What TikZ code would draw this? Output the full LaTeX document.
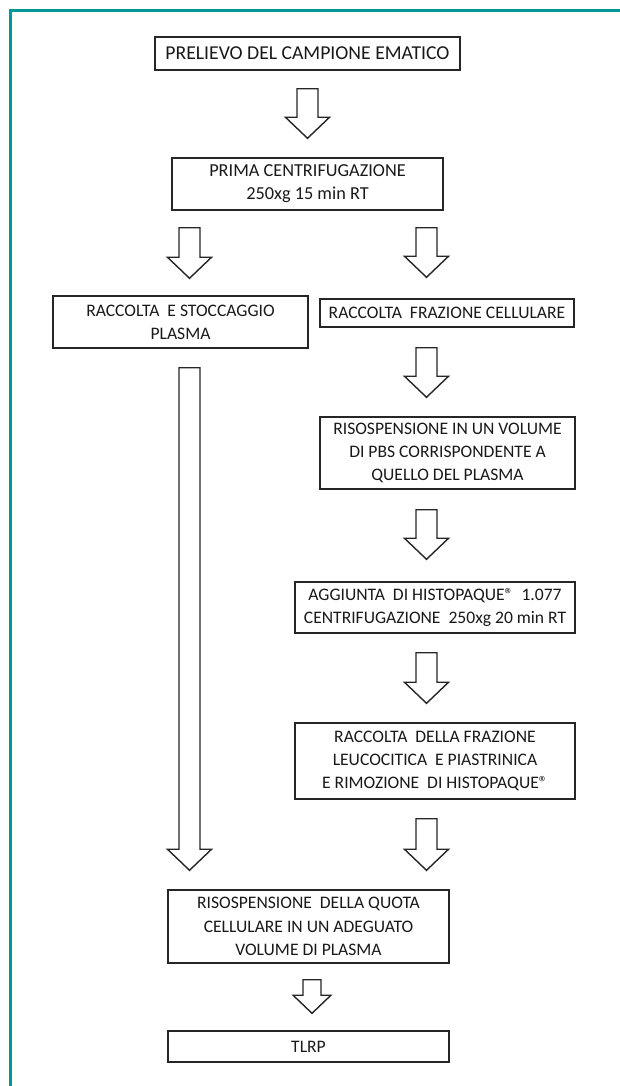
\documentclass[tikz,border=0pt]{standalone}
\usepackage{fontspec}
\setmainfont{Carlito}
\usetikzlibrary{calc}
\definecolor{frameTeal}{RGB}{0,153,148}
\tikzset{
  stepbox/.style={draw=black!85, line width=1pt, align=center, inner sep=0pt,
                  text=black!90, font=\fontsize{12.5}{16.5}\selectfont},
  hollow/.style={draw=black!85, line width=1pt, fill=white, line join=miter,
    to path={let \p1=(\tikztostart), \p2=(\tikztotarget) in
      (\x1-#1*7.47pt,\y1) -- (\x1+#1*7.47pt,\y1) -- (\x1+#1*7.47pt,\y2+#1*14.94pt)
      -- (\x1+#1*15.65pt,\y2+#1*14.94pt) -- (\x1,\y2) -- (\x1-#1*15.65pt,\y2+#1*14.94pt)
      -- (\x1-#1*7.47pt,\y2+#1*14.94pt) -- cycle}},
  hollow/.default=1,
  frame/.style={draw=frameTeal, line width=2.4pt, line join=miter},
}
\begin{document}
\begin{tikzpicture}[x=0.025cm, y=0.025cm]
  \useasboundingbox (0,0) rectangle (619,-1086);
  \draw[frame] (10.5,-1095) -- (10.5,-10.5) -- (630,-10.5);

  % columns of the two branches
  \coordinate (lcol) at (189.5,0);
  \coordinate (rcol) at (426.5,0);

  \node[stepbox, minimum width=7.625cm, minimum height=0.825cm, font=\fontsize{14}{17}\selectfont]
    (prelievo) at (307.5,-53.5) {PRELIEVO DEL CAMPIONE EMATICO};
  \node[stepbox, minimum width=6.775cm, minimum height=1.3cm, font=\fontsize{13}{16.5}\selectfont]
    (prima) at (307.5,-184) {PRIMA CENTRIFUGAZIONE\\250xg 15 min RT};
  \node[stepbox, minimum width=6.375cm, minimum height=1.3cm]
    (plasma) at (180.5,-322) {RACCOLTA\ \ E STOCCAGGIO\\PLASMA};
  \node[stepbox, minimum width=6.35cm, minimum height=0.7cm]
    (frazione) at (447,-313) {RACCOLTA\ \ FRAZIONE CELLULARE};
  \node[stepbox, minimum width=6.375cm, minimum height=1.8cm]
    (pbs) at (447.5,-453) {RISOSPENSIONE IN UN VOLUME\\DI PBS CORRISPONDENTE A\\QUELLO DEL PLASMA};
  \node[stepbox, minimum width=7cm, minimum height=1.275cm]
    (histo) at (435,-607.5) {AGGIUNTA\ \ DI HISTOPAQUE®\ \ 1.077\\CENTRIFUGAZIONE\ \ 250xg 20 min RT};
  \node[stepbox, minimum width=7cm, minimum height=1.9cm]
    (leuco) at (435,-761) {RACCOLTA\ \ DELLA FRAZIONE\\LEUCOCITICA\ \ E PIASTRINICA\\E RIMOZIONE\ \ DI HISTOPAQUE®};
  \node[stepbox, minimum width=7.025cm, minimum height=1.825cm]
    (quota) at (308.5,-926.5) {RISOSPENSIONE\ \ DELLA QUOTA\\CELLULARE IN UN ADEGUATO\\VOLUME DI PLASMA};
  \node[stepbox, minimum width=7.025cm, minimum height=0.775cm]
    (tlrp) at (308.5,-1046.5) {TLRP};

  % block arrows
  \draw[hollow] ($(prelievo.south)+(0,-18)$) to ($(prima.north)+(0,19)$);
  \draw[hollow] ($(lcol |- prima.south)+(0,-17)$) to ($(lcol |- plasma.north)+(0,17)$);
  \draw[hollow] ($(rcol |- prima.south)+(0,-17)$) to ($(rcol |- frazione.north)+(0,21)$);
  \draw[hollow] ($(rcol |- frazione.south)+(0,-20)$) to ($(rcol |- pbs.north)+(0,19)$);
  \draw[hollow] ($(rcol |- pbs.south)+(0,-20)$) to ($(rcol |- histo.north)+(0,22)$);
  \draw[hollow] ($(rcol |- histo.south)+(0,-19)$) to ($(rcol |- leuco.north)+(0,19)$);
  \draw[hollow] ($(rcol |- leuco.south)+(0,-19)$) to ($(rcol |- quota.north)+(0,19)$);
  \draw[hollow] ($(lcol |- plasma.south)+(0,-19)$) to ($(lcol |- quota.north)+(0,19)$);
  \draw[hollow=0.86] ($(quota.south)+(3.5,-16)$) to ($(tlrp.north)+(3.5,17)$);
\end{tikzpicture}
\end{document}
